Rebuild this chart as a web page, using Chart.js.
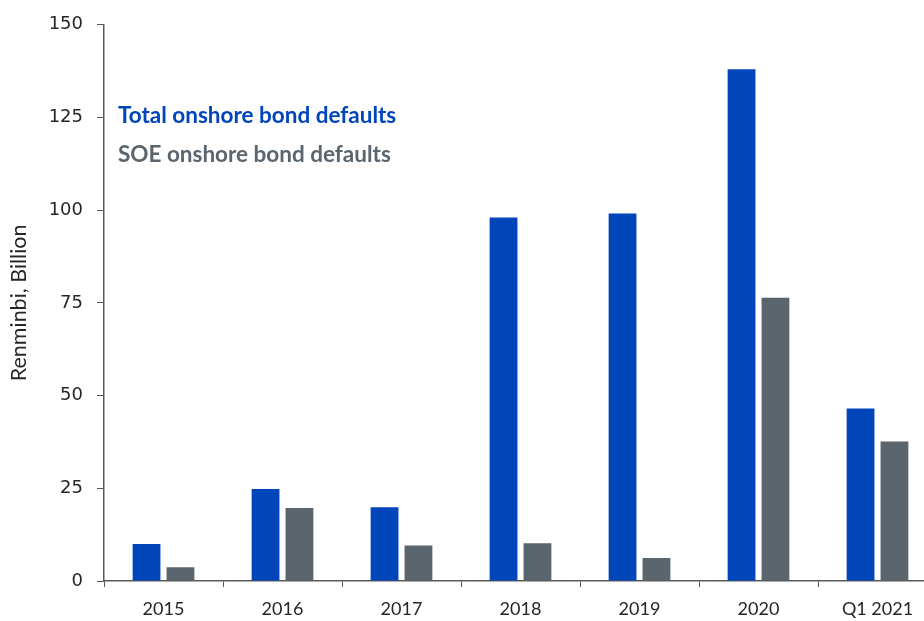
<!DOCTYPE html>
<html>
<head>
<meta charset="utf-8">
<script src="https://cdn.jsdelivr.net/npm/chart.js@4.4.1/dist/chart.umd.min.js"></script>
<style>
  html, body { margin: 0; padding: 0; background: #ffffff; overflow: hidden; }
  #wrap { position: relative; width: 940px; height: 621px; }
</style>
</head>
<body>
<div id="wrap"><canvas id="c"></canvas></div>
<script>
const categories = ["2015", "2016", "2017", "2018", "2019", "2020", "Q1 2021"];
const totalDefaults = [10, 24.8, 19.9, 98, 99.1, 138, 46.5];
const soeDefaults = [3.7, 19.7, 9.6, 10.2, 6.2, 76.4, 37.6];
const yTicks = [0, 25, 50, 75, 100, 125, 150];
const seriesNames = ["Total onshore bond defaults", "SOE onshore bond defaults"];

const BLUE = "#0046BA";
const GREY = "#5A656E";
const AXIS = "#595959";

const legendPlugin = {
  id: "inlineLegend",
  afterDraw(chart) {
    const ctx = chart.ctx;
    ctx.save();
    ctx.font = "bold 22.5px Lato, 'Open Sans', sans-serif";
    ctx.textBaseline = "middle";
    ctx.textAlign = "left";
    ctx.fillStyle = BLUE;
    ctx.fillText(seriesNames[0], 118, 116);
    ctx.fillStyle = GREY;
    ctx.fillText(seriesNames[1], 118, 155);
    ctx.restore();
  }
};

new Chart(document.getElementById("c"), {
  type: "bar",
  data: {
    labels: categories,
    datasets: [
      { label: seriesNames[0], data: totalDefaults, backgroundColor: BLUE, borderWidth: 0 },
      { label: seriesNames[1], data: soeDefaults, backgroundColor: GREY, borderWidth: 0 }
    ]
  },
  options: {
    responsive: true,
    maintainAspectRatio: false,
    animation: false,
    devicePixelRatio: 1,
    categoryPercentage: 0.57,
    barPercentage: 0.82,
    layout: { padding: { left: 0, right: 3, top: 24, bottom: 0 } },
    plugins: { legend: { display: false }, tooltip: { enabled: false } },
    scales: {
      x: {
        grid: { display: true, drawOnChartArea: false, drawTicks: true, tickLength: 6, color: AXIS, offset: true },
        border: { display: true, color: AXIS, width: 1.5 },
        ticks: { color: "#262626", font: { family: "Lato, 'Open Sans', sans-serif", size: 18 }, padding: 11, maxRotation: 0 },
        afterFit(scale) { scale.height = 40; }
      },
      y: {
        min: 0, max: 150,
        afterBuildTicks(scale) { scale.ticks = yTicks.map(v => ({ value: v })); },
        grid: { display: true, drawOnChartArea: false, drawTicks: true, tickLength: 7, color: AXIS },
        border: { display: true, color: AXIS, width: 1.5 },
        ticks: { color: "#262626", font: { family: "'DejaVu Sans', sans-serif", size: 18 }, padding: 14 },
        title: { display: true, text: "Renminbi, Billion", color: "#262626", font: { family: "Lato, 'Open Sans', sans-serif", size: 21.5 }, padding: { top: 6, bottom: 0 } },
        afterFit(scale) { scale.width = 104; }
      }
    }
  },
  plugins: [legendPlugin]
});
</script>
</body>
</html>
